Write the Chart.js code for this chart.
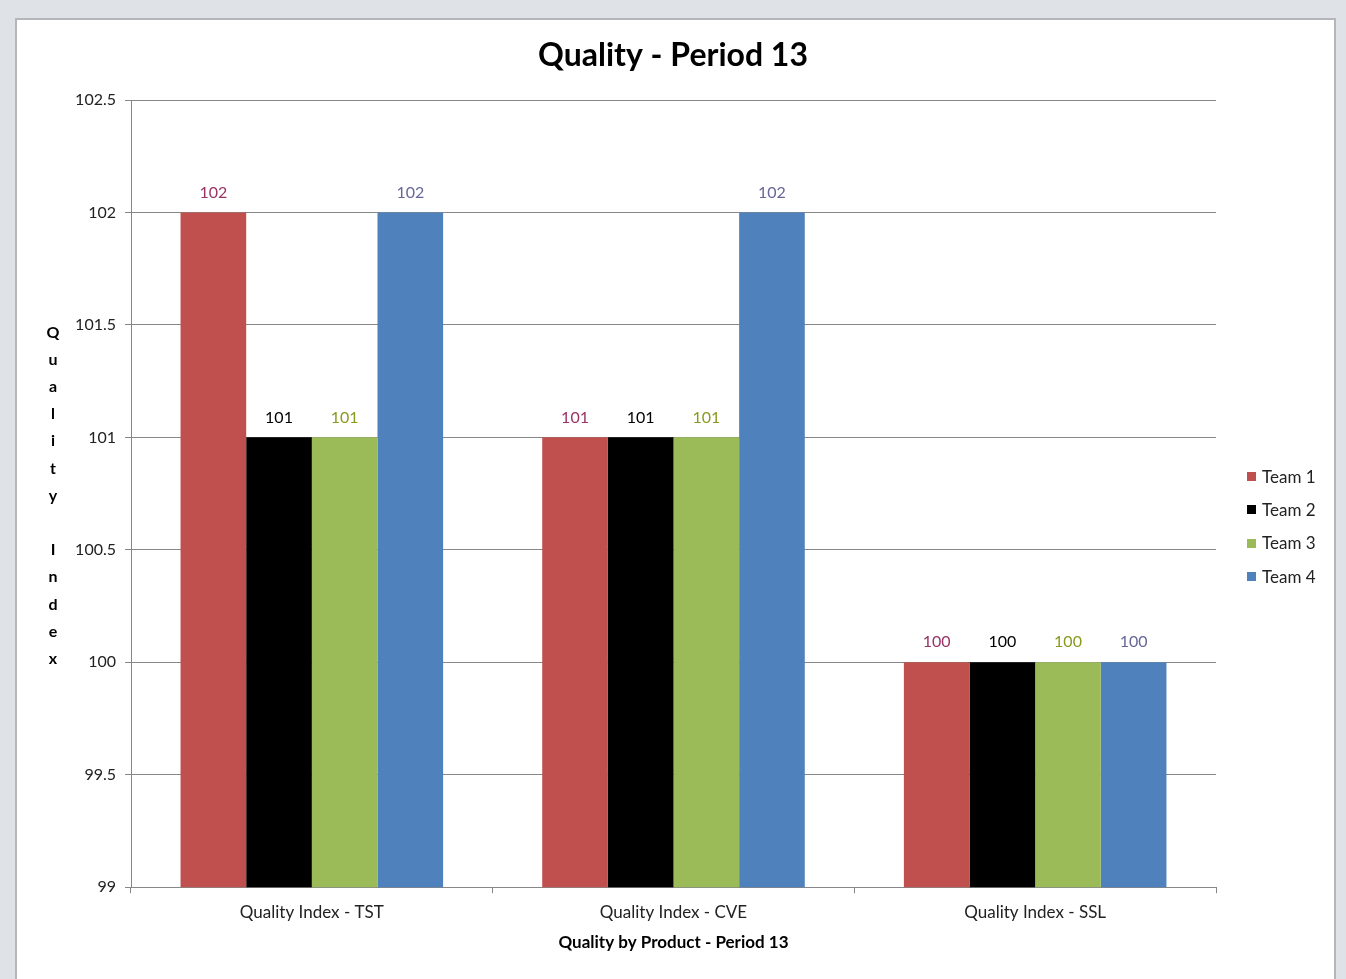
<!DOCTYPE html>
<html>
<head>
<meta charset="utf-8">
<script src="https://cdn.jsdelivr.net/npm/chart.js@4.4.1/dist/chart.umd.min.js"></script>
<style>
  html, body { margin: 0; padding: 0; }
  body { width: 1346px; height: 979px; background: #dfe2e6; position: relative; overflow: hidden; font-family: Lato, "Open Sans", sans-serif; }
  .frame { position: absolute; left: 15px; top: 18px; width: 1317px; height: 961px; background: #fff; border: 2px solid #b4b6b9; border-bottom: none; }
  #wrap { position: absolute; left: 0; top: 0; width: 1346px; height: 979px; }
  #legend { position: absolute; left: 1247px; top: 460px; margin: 0; padding: 0; list-style: none; font-size: 17px; color: #222; }
  #legend li { height: 33.3px; display: flex; align-items: center; line-height: 20px; }
  #legend li span { display: inline-block; width: 9px; height: 9px; margin-right: 6px; }
</style>
</head>
<body>
<div class="frame"></div>
<div id="wrap"><canvas id="qualityChart"></canvas></div>
<ul id="legend"></ul>
<script>
// ── Data ─────────────────────────────────────────────
const products   = ['Quality Index - TST', 'Quality Index - CVE', 'Quality Index - SSL'];
const teamNames  = ['Team 1', 'Team 2', 'Team 3', 'Team 4'];
const team1      = [102, 101, 100];
const team2      = [101, 101, 100];
const team3      = [101, 101, 100];
const team4      = [102, 102, 100];
const yTicks     = [99, 99.5, 100, 100.5, 101, 101.5, 102, 102.5];

const barColors   = ['#c0504d', '#000000', '#9bbb59', '#4f81bd'];
const labelColors = ['#993366', '#000000', '#8a9a1f', '#666699'];
const FONT = 'Lato, "Open Sans", sans-serif';
const AXIS_GREY = '#878787';

// ── Value labels above each bar ──────────────────────
const valueLabels = {
  id: 'valueLabels',
  afterDatasetsDraw(chart) {
    const ctx = chart.ctx;
    ctx.save();
    ctx.font = `16px ${FONT}`;
    ctx.textAlign = 'center';
    ctx.textBaseline = 'middle';
    chart.data.datasets.forEach((ds, di) => {
      chart.getDatasetMeta(di).data.forEach((bar, i) => {
        ctx.fillStyle = labelColors[di];
        ctx.fillText(String(ds.data[i]), bar.x, bar.y - 20);
      });
    });
    ctx.restore();
  }
};

// ── Stacked (one letter per line) y-axis title ───────
const Y_TITLE = 'Quality Index';
const stackedYTitle = {
  id: 'stackedYTitle',
  afterDraw(chart) {
    const { ctx, chartArea } = chart;
    const step = 27.2;
    const mid = (chartArea.top + chartArea.bottom) / 2 + 2;
    ctx.save();
    ctx.font = `bold 16px ${FONT}`;
    ctx.fillStyle = '#000';
    ctx.textAlign = 'center';
    ctx.textBaseline = 'middle';
    [...Y_TITLE].forEach((ch, i) => {
      ctx.fillText(ch, 53, mid + (i - (Y_TITLE.length - 1) / 2) * step);
    });
    ctx.restore();
  }
};

const datasets = [team1, team2, team3, team4].map((vals, i) => ({
  label: teamNames[i],
  data: vals,
  backgroundColor: barColors[i],
  borderWidth: 0,
  categoryPercentage: 0.726,
  barPercentage: 1.0,
}));

const chart = new Chart(document.getElementById('qualityChart'), {
  type: 'bar',
  data: { labels: products, datasets },
  options: {
    responsive: true, maintainAspectRatio: false, animation: false,
    // symmetric padding keeps the title centred on the whole canvas
    layout: { padding: { left: 70, right: 70, bottom: 26, top: 0 } },
    plugins: {
      legend: { display: false },
      tooltip: { enabled: false },
      title: {
        display: true,
        text: 'Quality - Period 13',
        color: '#000',
        font: { family: FONT, size: 32, weight: 'bold' },
        padding: { top: 36, bottom: 25.6 },
      },
    },
    scales: {
      x: {
        grid: { display: true, drawOnChartArea: false, color: AXIS_GREY, tickLength: 6, offset: true },
        border: { color: AXIS_GREY },
        ticks: { color: '#222', padding: 9, font: { family: FONT, size: 17 } },
        title: {
          display: true, text: 'Quality by Product - Period 13', color: '#000',
          font: { family: FONT, size: 17, weight: 'bold' }, padding: { top: 1, bottom: 0 },
        },
      },
      y: {
        min: 99, max: 102.5,
        afterBuildTicks: scale => { scale.ticks = yTicks.map(v => ({ value: v })); },
        afterFit: scale => { scale.width = 61; },
        grid: { color: AXIS_GREY, tickLength: 6 },
        border: { color: AXIS_GREY },
        ticks: { color: '#222', padding: 9, font: { family: FONT, size: 16 }, callback: v => String(v) },
      },
      // empty box on the right: room for the legend
      legendRoom: {
        position: 'right',
        afterFit: scale => { scale.width = 60; },
        grid: { display: false },
        border: { display: false },
        ticks: { display: false },
      },
    },
  },
  plugins: [valueLabels, stackedYTitle],
});

// ── HTML legend from the datasets ────────────────────
document.getElementById('legend').innerHTML = chart.data.datasets
  .map(ds => `<li><span style="background:${ds.backgroundColor}"></span>${ds.label}</li>`)
  .join('');
</script>
</body>
</html>
